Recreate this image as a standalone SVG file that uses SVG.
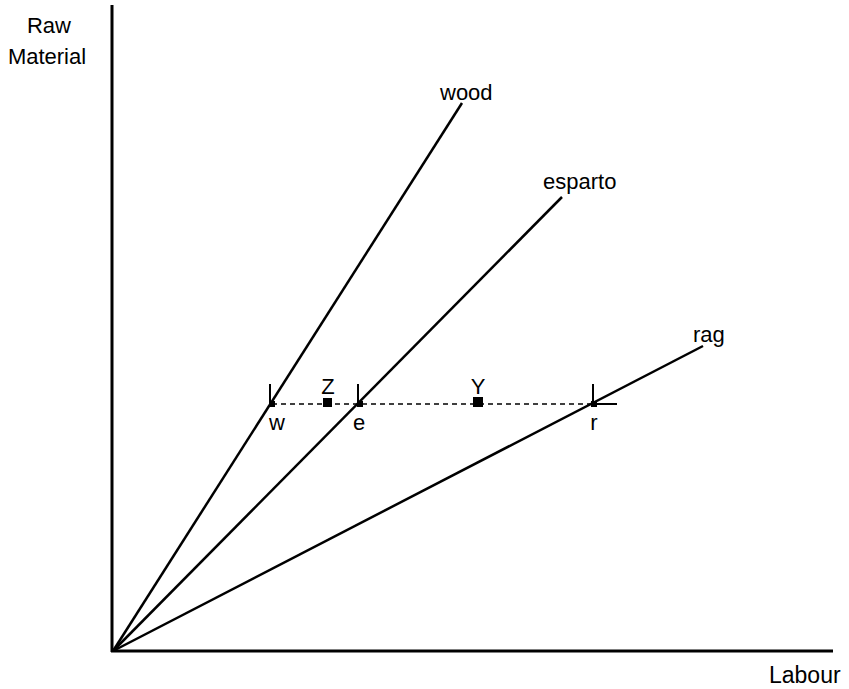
<svg xmlns="http://www.w3.org/2000/svg" width="849" height="689" viewBox="0 0 849 689">
<style>
text{font-family:"Liberation Sans",Arial,sans-serif;font-size:22px;fill:#000}
.axis{stroke:#000;stroke-width:3;fill:none}
.ray{stroke:#000;stroke-width:2.5;fill:none}
.tick{stroke:#000;stroke-width:2;fill:none}
.dash{stroke:#000;stroke-width:1.6;stroke-dasharray:5 4;fill:none}
.mid{text-anchor:middle}
</style>
<rect width="849" height="689" fill="#fff"/>
<g id="axes">
<line class="axis" x1="112" y1="5" x2="112" y2="652"/>
<line class="axis" x1="111" y1="651" x2="833" y2="651"/>
<text class="mid" x="49" y="33">Raw</text>
<text class="mid" x="47" y="64">Material</text>
<text x="769" y="683" style="font-size:23px">Labour</text>
</g>
<g id="connectors">
<line class="ray" x1="113" y1="651" x2="462" y2="103"/>
<line class="ray" x1="113" y1="651" x2="562" y2="197"/>
<line class="ray" x1="113" y1="651" x2="703" y2="346"/>
<line class="dash" x1="272" y1="404" x2="593" y2="404"/>
<line class="tick" x1="593" y1="404" x2="617" y2="404"/>
</g>
<g id="wood"><text x="440" y="100">wood</text></g>
<g id="esparto"><text x="543" y="189">esparto</text></g>
<g id="rag"><text x="693" y="342">rag</text></g>
<g id="w">
<line class="tick" x1="270" y1="384" x2="270" y2="404"/>
<rect x="269" y="401" width="6" height="6"/>
<text class="mid" x="277" y="430">w</text>
</g>
<g id="e">
<line class="tick" x1="358" y1="384" x2="358" y2="404"/>
<rect x="357" y="401" width="6" height="6"/>
<text class="mid" x="359" y="430">e</text>
</g>
<g id="r">
<line class="tick" x1="593" y1="384" x2="593" y2="404"/>
<rect x="591" y="401" width="6" height="6"/>
<text class="mid" x="594" y="430">r</text>
</g>
<g id="Z">
<rect x="323" y="398" width="9" height="9"/>
<text class="mid" x="328" y="394">Z</text>
</g>
<g id="Y">
<rect x="473" y="397" width="10" height="10"/>
<text class="mid" x="478" y="394">Y</text>
</g>
</svg>
